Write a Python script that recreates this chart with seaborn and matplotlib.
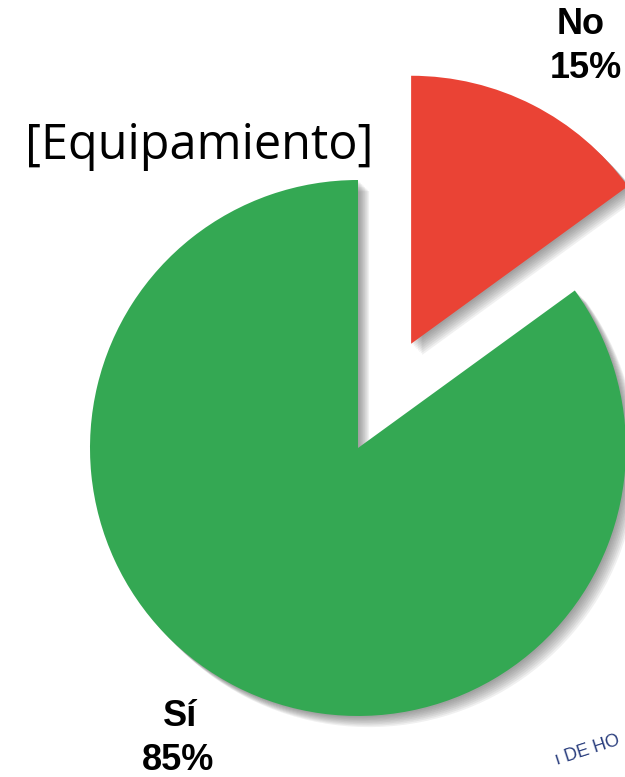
import matplotlib
matplotlib.use("Agg")
import matplotlib.pyplot as plt
from matplotlib.patches import Shadow
import seaborn as sns

# Data
labels = ["No", "Sí"]
shares = [15, 85]
colors = ["#EA4335", "#34A853"]
title = "[Equipamiento]"

sns.set_theme(style="white")

fig = plt.figure(figsize=(6.25, 7.77), dpi=100)
ax = fig.add_axes([0, 0, 1, 1])

# pie centred on the green part, red slice pulled out (explode in data units here)
wedges, _ = ax.pie(
    shares,
    colors=colors,
    startangle=36,
    counterclock=True,
    explode=[117, 0],
    center=(358, 329),
    radius=268,
    wedgeprops={"linewidth": 0, "zorder": 3},
    frame=True,
)

# soft grey drop shadow: a few stacked faint copies
for w in wedges:
    for k in range(1, 9):
        s = Shadow(w, k * 1.0, -k * 1.0, facecolor="#444444", edgecolor="none",
                   alpha=0.08, zorder=1)
        ax.add_patch(s)

ax.set_xlim(0, 625)
ax.set_ylim(0, 777)
ax.set_aspect("equal")
ax.axis("off")

# slice labels
lab_font = {"family": "Liberation Sans", "weight": "bold", "size": 26, "color": "black"}
ax.text(581, 777 - 24, labels[0], ha="center", va="center", **lab_font)
ax.text(586, 777 - 69, f"{shares[0]}%", ha="center", va="center", **lab_font)
ax.text(180, 777 - 717, labels[1], ha="center", va="center", **lab_font)
ax.text(178, 777 - 760, f"{shares[1]}%", ha="center", va="center", **lab_font)

ax.text(199, 777 - 146, title, ha="center", va="center", fontsize=35,
        family="Open Sans", color="black")

# watermark fragment in the corner
ax.text(588, 777 - 750, "ı DE HO", ha="center", va="center", fontsize=13,
        color="#2B3F7E", rotation=18, family="Liberation Sans")

fig.savefig("out.png", dpi=100)
